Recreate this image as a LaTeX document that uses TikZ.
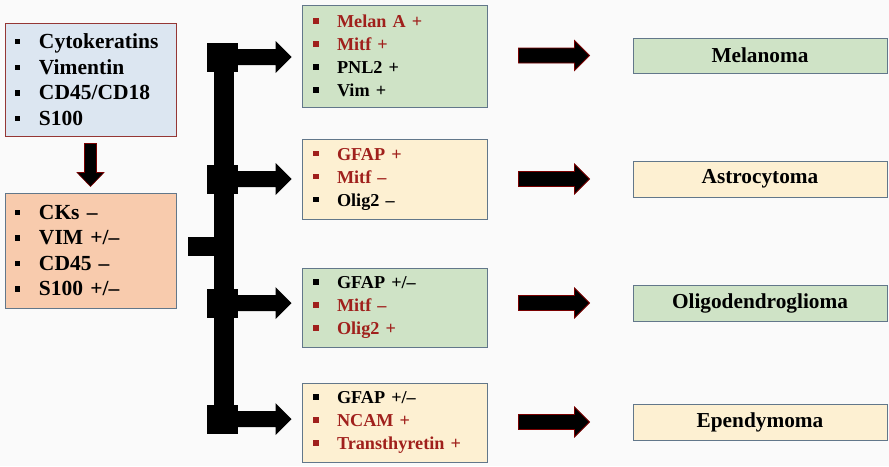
\documentclass[tikz,border=0pt]{standalone}
\usepackage{fontspec}
\setmainfont{Liberation Serif}
\usetikzlibrary{calc}

\definecolor{pagebg}{HTML}{FAFAFA}
\definecolor{bluefill}{HTML}{DCE6F1}
\definecolor{blueedge}{HTML}{953735}
\definecolor{peachfill}{HTML}{F8CBAD}
\definecolor{greenfill}{HTML}{CFE3C6}
\definecolor{yellowfill}{HTML}{FDF0D2}
\definecolor{slateedge}{HTML}{62778A}
\definecolor{txtred}{HTML}{A0201C}
\definecolor{arrowedge}{HTML}{7A0000}

% bullet items: black and red
\newcommand{\bk}[1]{\makebox[24pt][l]{\raisebox{4pt}{\rule{5.5pt}{5.5pt}}}#1}
\newcommand{\rd}[1]{\textcolor{txtred}{\bk{#1}}}

% horizontal block arrow: style, start, end, shaft half-width, head half-width, head length
\newcommand{\fatarrow}[6]{%
  \path[#1] let \p1=(#2), \p2=(#3) in
    (\x1,\y1+#4) -- (\x2-#6,\y1+#4) -- (\x2-#6,\y1+#5) -- (\x2,\y1)
    -- (\x2-#6,\y1-#5) -- (\x2-#6,\y1-#4) -- (\x1,\y1-#4) -- cycle;}

\begin{document}
\begin{tikzpicture}[x=1pt,y=-1pt,
  listbox/.style={draw, line width=1pt, inner xsep=10pt, inner ysep=0pt,
    align=left, font={\fontsize{21.5pt}{25.6pt}\selectfont\bfseries}},
  markbox/.style={draw=slateedge, line width=1pt, inner xsep=11pt, inner ysep=0pt,
    align=left, text width=163pt, minimum height=79pt,
    font={\fontsize{18.2pt}{23pt}\selectfont\bfseries}},
  diagbox/.style={draw=slateedge, line width=1pt, minimum width=254pt, minimum height=36pt,
    inner sep=0pt, font={\fontsize{21.3pt}{24pt}\selectfont\bfseries}},
  blackarrow/.style={fill=black},
  redarrow/.style={fill=black, draw=arrowedge, line width=0.8pt}]

\useasboundingbox (0,0) rectangle (889,466);
\fill[pagebg] (0,0) rectangle (889,466);

% panel of markers tested first, and the result
\node[listbox, draw=blueedge, fill=bluefill, text width=151pt, minimum height=113pt]
  (b1) at (90.5,79.5) {\bk{Cytokeratins}\\ \bk{Vimentin}\\ \bk{CD45/CD18}\\ \bk{S100}};
\node[listbox, draw=slateedge, fill=peachfill, text width=151pt, minimum height=115pt]
  (b2) at (90.5,250.5) {\bk{CKs \textendash}\\ \bk{VIM +/\textendash}\\ \bk{CD45 \textendash}\\ \bk{S100 +/\textendash}};

% second-line marker panels
\node[markbox, fill=greenfill, minimum height=102pt] (m1) at (394.5,56)
  {\rd{Melan A +}\\ \rd{Mitf +}\\ \bk{PNL2 +}\\ \bk{Vim +}};
\node[markbox, fill=yellowfill, minimum height=80pt] (m2) at (394.5,179)
  {\rd{GFAP +}\\ \rd{Mitf \textendash}\\ \bk{Olig2 \textendash}};
\node[markbox, fill=greenfill] (m3) at (394.5,307.5)
  {\bk{GFAP +/\textendash}\\ \rd{Mitf \textendash}\\ \rd{Olig2 +}};
\node[markbox, fill=yellowfill] (m4) at (394.5,422.5)
  {\bk{GFAP +/\textendash}\\ \rd{NCAM +}\\ \rd{Transthyretin +}};

% diagnoses
\node[diagbox, fill=greenfill, minimum height=35pt] (d1) at (760,55.5) {Melanoma};
\node[diagbox, fill=yellowfill] (d2) at (760,179) {Astrocytoma};
\node[diagbox, fill=greenfill] (d3) at (760,303) {Oligodendroglioma};
\node[diagbox, fill=yellowfill] (d4) at (760,422) {Ependymoma};

% down arrow between the two left panels
\path[fill=black, draw=arrowedge, line width=0.6pt]
  let \p1=($(b1.south)+(0,7)$), \p2=($(b2.north)+(0,-6)$) in
  (\x1-6pt,\y1) -- (\x1-6pt,\y2+14pt) -- (\x1-13.5pt,\y2+14pt) -- (\x1,\y2)
  -- (\x1+13.5pt,\y2+14pt) -- (\x1+6pt,\y2+14pt) -- (\x1+6pt,\y1) -- cycle;

% branching bracket
\coordinate (j0) at (222.5,246.5);
\coordinate (j1) at (222.5,57);
\coordinate (j2) at (222.5,179);
\coordinate (j3) at (222.5,303);
\coordinate (j4) at (222.5,419);

\fill[black] ($(j1)+(-8.5,-13)$) rectangle ($(j4)+(11.5,14)$);
\fill[black] ($(b2.east|-j0)+(11,-9.5)$) rectangle ($(j0)+(-8.5,9.5)$);
\foreach \j in {j1,j2,j3,j4}
  \fill[black] ($(\j)+(-15.5,-14.5)$) rectangle ($(\j)+(15.5,14.5)$);

\fatarrow{blackarrow}{j1}{$(m1.west|-j1)+(-10,0)$}{8pt}{16pt}{16pt}
\fatarrow{blackarrow}{j2}{$(m2.west|-j2)+(-10,0)$}{8pt}{16pt}{16pt}
\fatarrow{blackarrow}{j3}{$(m3.west|-j3)+(-10,0)$}{8pt}{16pt}{16pt}
\fatarrow{blackarrow}{j4}{$(m4.west|-j4)+(-10,0)$}{8pt}{16pt}{16pt}

% arrows to the diagnoses
\fatarrow{redarrow}{$(m1.east|-d1.west)+(31,0)$}{$(d1.west)+(-43,0)$}{7.5pt}{15pt}{15pt}
\fatarrow{redarrow}{$(m2.east|-d2.west)+(31,0)$}{$(d2.west)+(-43,0)$}{7.5pt}{15pt}{15pt}
\fatarrow{redarrow}{$(m3.east|-d3.west)+(31,0)$}{$(d3.west)+(-43,0)$}{7.5pt}{15pt}{15pt}
\fatarrow{redarrow}{$(m4.east|-d4.west)+(31,0)$}{$(d4.west)+(-43,0)$}{7.5pt}{15pt}{15pt}

\end{tikzpicture}
\end{document}
